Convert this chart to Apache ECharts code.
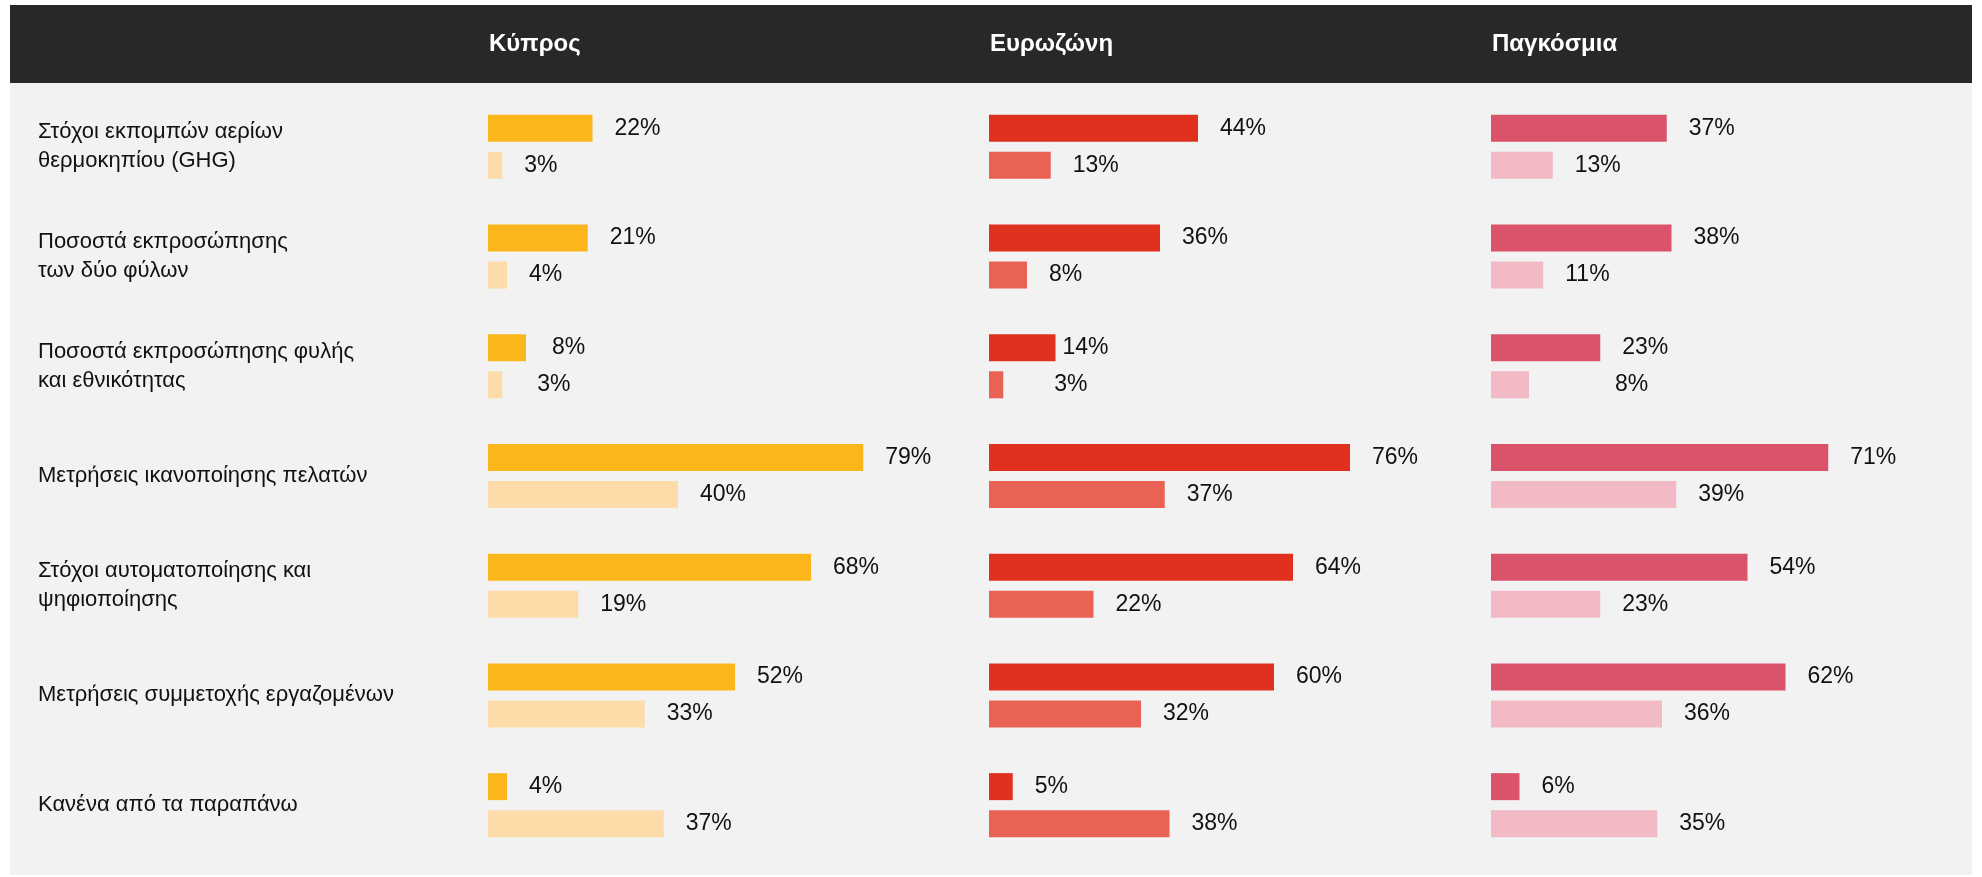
<!DOCTYPE html>
<html>
<head>
<meta charset="utf-8">
<title>ESG στόχοι</title>
<script src="https://cdn.jsdelivr.net/npm/echarts@6/dist/echarts.min.js"></script>
<style>
  html, body { margin: 0; padding: 0; background: #fff; }
  #chart { width: 1982px; height: 877px; }
</style>
</head>
<body>
<div id="chart"></div>
<script>
// categories, top to bottom
var categories = [
  'Στόχοι εκπομπών αερίων\nθερμοκηπίου (GHG)',
  'Ποσοστά εκπροσώπησης\nτων δύο φύλων',
  'Ποσοστά εκπροσώπησης φυλής\nκαι εθνικότητας',
  'Μετρήσεις ικανοποίησης πελατών',
  'Στόχοι αυτοματοποίησης και\nψηφιοποίησης',
  'Μετρήσεις συμμετοχής εργαζομένων',
  'Κανένα από τα παραπάνω'
];
var regions = ['Κύπρος', 'Ευρωζώνη', 'Παγκόσμια'];

var cyprusMain = [22, 21, 8, 79, 68, 52, 4];
var cyprusSub = [3, 4, 3, 40, 19, 33, 37];
var euroMain = [44, 36, 14, 76, 64, 60, 5];
var euroSub = [13, 8, 3, 37, 22, 32, 38];
var globalMain = [37, 38, 23, 71, 54, 62, 6];
var globalSub = [13, 11, 8, 39, 23, 36, 35];

// the original nudges a few value labels sideways (px)
var nudgeCyprusMain = [0, 0, 4, 0, 0, 0, 0];
var nudgeCyprusSub = [0, 0, 13, 0, 0, 0, 0];
var nudgeEuroMain = [0, 0, -15, 0, 0, 0, 0];
var nudgeEuroSub = [0, 0, 29, 0, 0, 0, 0];
var nudgeGlobalMain = [0, 0, 0, 0, 0, 0, 0];
var nudgeGlobalSub = [0, 0, 64, 0, 0, 0, 0];

var font = '"Liberation Sans", Arial, sans-serif';
var lefts = [488, 989, 1491];
var colors = [
  ['#FAB61A', '#FDDCAA'],
  ['#E0301E', '#E96254'],
  ['#DB536A', '#F1BAC4']
];
var sets = [
  [cyprusMain, cyprusSub, nudgeCyprusMain, nudgeCyprusSub],
  [euroMain, euroSub, nudgeEuroMain, nudgeEuroSub],
  [globalMain, globalSub, nudgeGlobalMain, nudgeGlobalSub]
];

var grids = [], xAxes = [], yAxes = [], series = [], headers = [];

function barData(vals, nudge) {
  return vals.map(function (v, i) {
    return { value: v, label: { offset: [nudge[i], 0] } };
  });
}

for (var g = 0; g < 3; g++) {
  grids.push({ left: lefts[g], top: 92, width: 475, height: 768 });
  xAxes.push({
    type: 'value', gridIndex: g, min: 0, max: 100, show: false
  });
  yAxes.push({
    type: 'category', gridIndex: g, inverse: true, data: categories,
    axisLine: { show: false }, axisTick: { show: false },
    axisLabel: {
      show: g === 0, align: 'left', margin: 450,
      fontFamily: font, fontSize: 22, lineHeight: 29, color: '#111'
    }
  });
  for (var s = 0; s < 2; s++) {
    series.push({
      type: 'bar', xAxisIndex: g, yAxisIndex: g,
      barWidth: 27, barGap: '37%',
      itemStyle: { color: colors[g][s] },
      label: {
        show: true, position: 'right', distance: 22,
        formatter: '{c}%', fontFamily: font, fontSize: 23, color: '#111'
      },
      data: barData(sets[g][s], sets[g][s + 2])
    });
  }
  headers.push({
    type: 'text', x: lefts[g] + 1, y: 44,
    style: {
      text: regions[g], fill: '#fff', font: 'bold 24px ' + font,
      verticalAlign: 'middle'
    }
  });
}

var chart = echarts.init(document.getElementById('chart'));
chart.setOption({
  animation: false,
  graphic: [
    { type: 'rect', z: -10, shape: { x: 10, y: 83, width: 1962, height: 792 }, style: { fill: '#F2F2F2' } },
    { type: 'rect', z: -10, shape: { x: 10, y: 5, width: 1962, height: 78 }, style: { fill: '#292826' } }
  ].concat(headers),
  grid: grids,
  xAxis: xAxes,
  yAxis: yAxes,
  series: series
});
</script>
</body>
</html>
